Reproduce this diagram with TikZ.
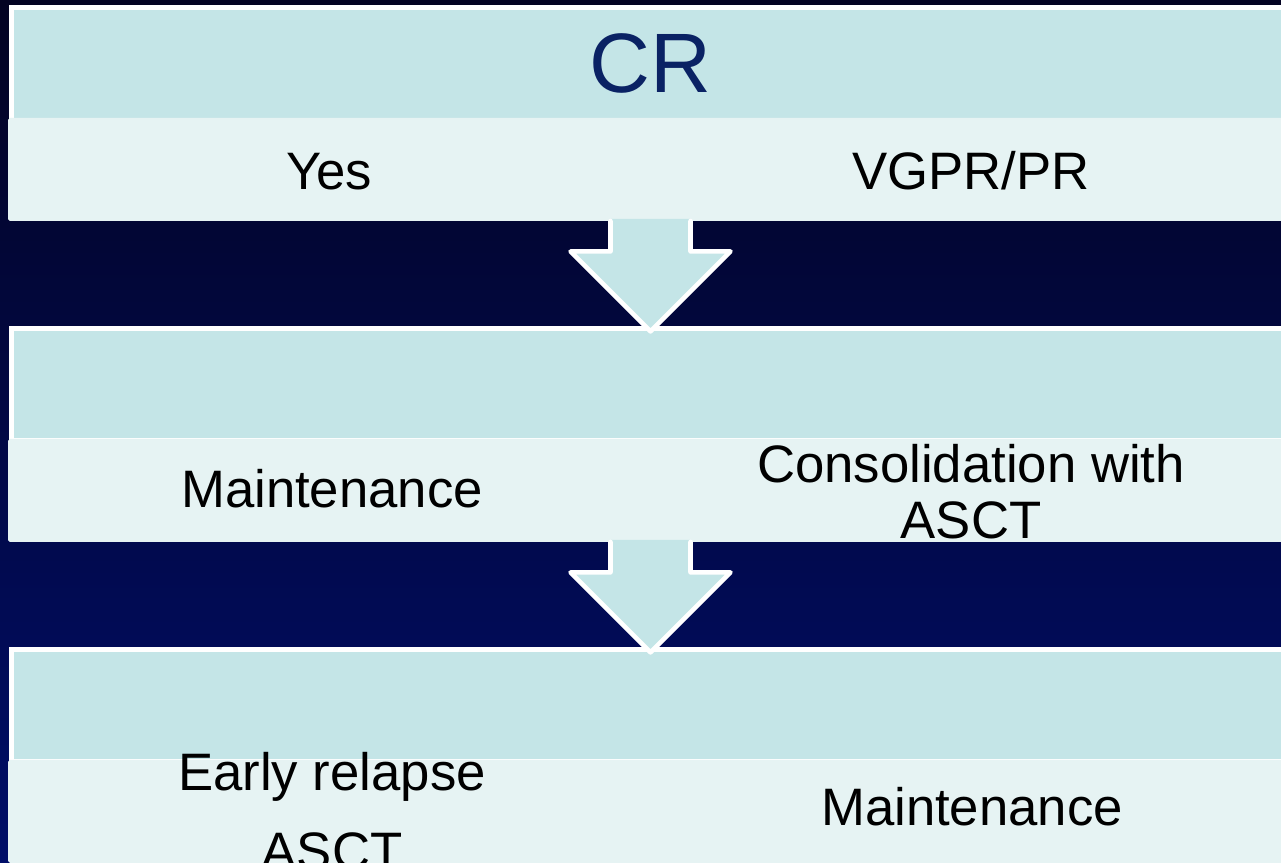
\documentclass[tikz,border=0pt]{standalone}
\usepackage{fontspec}
\setmainfont{Liberation Sans}
\usetikzlibrary{positioning,calc}

\definecolor{bgtop}{RGB}{3,3,34}
\definecolor{bgbottom}{RGB}{0,14,104}
\definecolor{bandhead}{RGB}{196,229,231}
\definecolor{bandbody}{RGB}{230,243,243}
\definecolor{crblue}{RGB}{10,34,100}

% block arrow from the bottom of one stage to the top of the next
\newcommand{\stagearrow}[2]{%
  \coordinate (s) at (#1.south);
  \coordinate (t) at ($(#2.north)+(0,3)$);
  \fill[bandhead] ($(s)+(-40,-2)$) |- ($(t)+(-80,-80)$) -- (t) -- ($(t)+(80,-80)$) -| ($(s)+(40,-2)$) -- cycle;
  \draw[arrowline] ($(s)+(-40,0)$) |- ($(t)+(-80,-80)$) -- (t) -- ($(t)+(80,-80)$) -| ($(s)+(40,0)$);
}

\begin{document}
\begin{tikzpicture}[
        x=0.02cm, y=-0.02cm,
        stagehead/.style={rectangle, fill=bandhead, draw=white, line width=2.8pt, minimum width=25.56cm, minimum height=2.25cm, outer sep=0pt, inner sep=0pt},
        stagebody/.style={rectangle, rounded corners=1pt, fill=bandbody, minimum width=25.7cm, minimum height=2.06cm, outer sep=0pt, inner sep=0pt},
        choice/.style={font=\fontsize{30}{31.75}\selectfont, align=center, anchor=base, inner sep=0pt},
        arrowline/.style={draw=white, line width=2.6pt, line join=round, line cap=round}
    ]

    % page and background
    \useasboundingbox (0,0) rectangle (1281,862);
    \clip (0,0) rectangle (1281,862);
    \shade[top color=bgtop, bottom color=bgbottom] (0,0) rectangle (1281,862);

    % Stage 1
    \node[stagehead, font=\fontsize{48}{50}\selectfont, text=crblue] (crhead) at (650.5,63.75) {CR};
    \node[stagebody, below=-0.04cm of crhead] (crbody) {};

    % Stage 2
    \node[stagehead, below=2.15cm of crbody] (firsthead) {};
    \node[stagebody, below=-0.04cm of firsthead] (firstbody) {};

    % Stage 3
    \node[stagehead, below=2.15cm of firstbody] (secondhead) {};
    \node[stagebody, below=-0.04cm of secondhead] (secondbody) {};

    % Options (base = last line)
    \node[choice] (yes) at (329,189) {Yes};
    \node[choice] (vgpr) at (971,189) {VGPR/PR};
    \node[choice] (maint) at (332,507) {Maintenance};
    \node[choice] (consol) at (971,538) {Consolidation with\\ASCT};
    \node[choice] (relapse) at (332,869) {Early relapse\\[13pt]ASCT};
    \node[choice] (maintlate) at (972,825) {Maintenance};

    % Arrows
    \stagearrow{crbody}{firsthead}
    \stagearrow{firstbody}{secondhead}

\end{tikzpicture}
\end{document}
